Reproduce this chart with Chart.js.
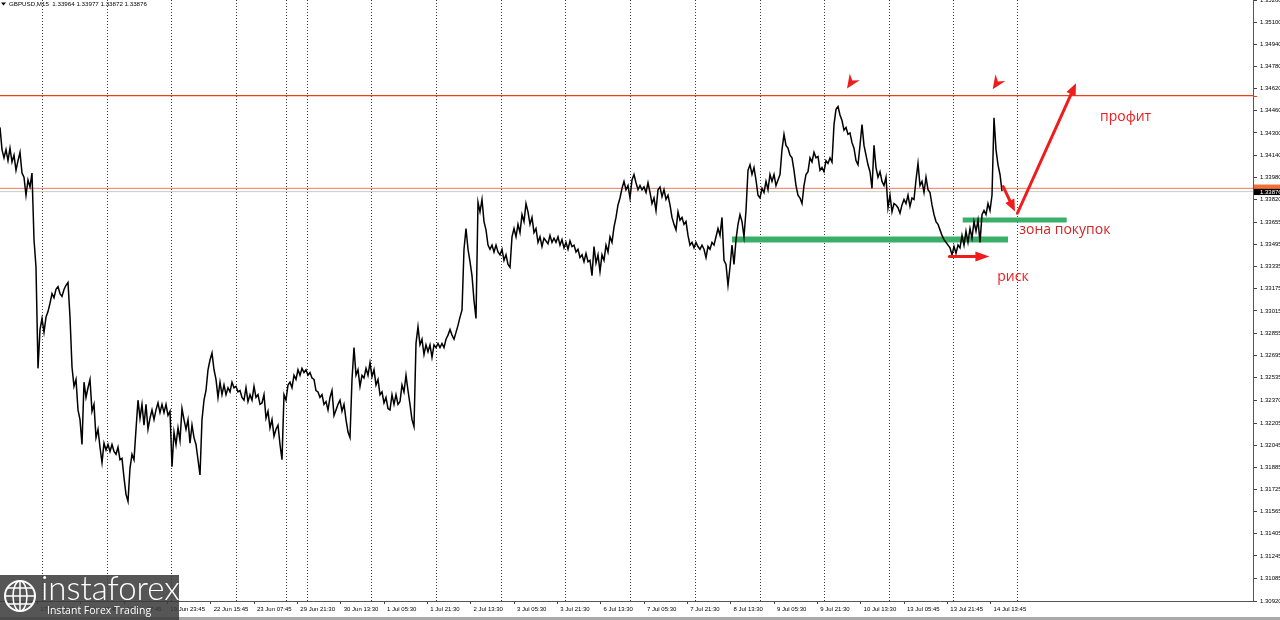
<!DOCTYPE html>
<html><head><meta charset="utf-8">
<script src="https://cdn.jsdelivr.net/npm/chart.js@4.4.1/dist/chart.umd.min.js"></script>
<style>html,body{margin:0;padding:0;background:#fff;overflow:hidden}canvas{display:block}</style>
</head><body>
<canvas id="c" width="1280" height="620"></canvas>
<script>
// GBPUSD M15 close, one reading per sample (~3 bars)
const closePrices = [
1.3434,1.3418,1.3412,1.3418,1.3410,1.3419,1.3409,1.3414,1.3403,1.3410,
1.3416,1.3401,1.3398,1.3385,1.3396,1.3391,1.3401,1.3353,1.3333,1.3260,
1.3288,1.3296,1.3286,1.3297,1.3301,1.3307,1.3314,1.3311,1.3317,1.3319,
1.3314,1.3312,1.3317,1.3320,1.3322,1.3297,1.3261,1.3247,1.3252,1.3230,
1.3223,1.3205,1.3250,1.3239,1.3246,1.3252,1.3229,1.3234,1.3210,1.3216,
1.3203,1.3192,1.3206,1.3201,1.3205,1.3200,1.3205,1.3200,1.3198,1.3203,
1.3194,1.3195,1.3181,1.3169,1.3164,1.3188,1.3198,1.3194,1.3216,1.3237,
1.3224,1.3234,1.3219,1.3234,1.3216,1.3224,1.3230,1.3223,1.3230,1.3235,
1.3228,1.3234,1.3228,1.3234,1.3226,1.3229,1.3189,1.3214,1.3205,1.3217,
1.3208,1.3231,1.3223,1.3216,1.3223,1.3206,1.3219,1.3210,1.3205,1.3194,
1.3183,1.3223,1.3237,1.3244,1.3259,1.3266,1.3271,1.3259,1.3252,1.3239,
1.3250,1.3241,1.3248,1.3241,1.3246,1.3243,1.3250,1.3246,1.3247,1.3243,
1.3244,1.3239,1.3237,1.3246,1.3236,1.3241,1.3237,1.3247,1.3239,1.3241,
1.3234,1.3235,1.3241,1.3224,1.3229,1.3217,1.3223,1.3211,1.3216,1.3219,
1.3205,1.3194,1.3241,1.3237,1.3248,1.3250,1.3246,1.3255,1.3252,1.3259,
1.3255,1.3260,1.3257,1.3259,1.3255,1.3257,1.3253,1.3252,1.3244,1.3243,
1.3239,1.3241,1.3234,1.3236,1.3230,1.3239,1.3244,1.3226,1.3230,1.3234,
1.3237,1.3229,1.3234,1.3223,1.3214,1.3210,1.3252,1.3275,1.3255,1.3259,
1.3247,1.3255,1.3253,1.3260,1.3255,1.3264,1.3254,1.3259,1.3248,1.3252,
1.3241,1.3243,1.3235,1.3239,1.3231,1.3230,1.3241,1.3234,1.3241,1.3234,
1.3236,1.3248,1.3243,1.3255,1.3244,1.3234,1.3223,1.3218,1.3278,1.3290,
1.3277,1.3281,1.3270,1.3277,1.3272,1.3277,1.3268,1.3277,1.3275,1.3278,
1.3275,1.3278,1.3275,1.3281,1.3284,1.3288,1.3284,1.3281,1.3286,1.3291,
1.3297,1.3302,1.3346,1.3361,1.3346,1.3337,1.3327,1.3309,1.3296,1.3380,
1.3373,1.3382,1.3366,1.3360,1.3349,1.3346,1.3349,1.3344,1.3349,1.3344,
1.3342,1.3346,1.3338,1.3342,1.3335,1.3333,1.3355,1.3361,1.3355,1.3364,
1.3358,1.3371,1.3366,1.3379,1.3373,1.3364,1.3369,1.3358,1.3361,1.3351,
1.3355,1.3348,1.3354,1.3352,1.3350,1.3356,1.3351,1.3354,1.3351,1.3355,
1.3349,1.3353,1.3347,1.3351,1.3346,1.3352,1.3348,1.3349,1.3344,1.3346,
1.3340,1.3342,1.3337,1.3343,1.3337,1.3338,1.3327,1.3348,1.3336,1.3342,
1.3330,1.3342,1.3338,1.3349,1.3344,1.3355,1.3351,1.3362,1.3369,1.3378,
1.3383,1.3390,1.3395,1.3389,1.3392,1.3383,1.3396,1.3400,1.3394,1.3389,
1.3392,1.3389,1.3391,1.3387,1.3394,1.3387,1.3379,1.3383,1.3374,1.3389,
1.3391,1.3384,1.3389,1.3382,1.3385,1.3378,1.3369,1.3364,1.3360,1.3373,
1.3367,1.3369,1.3364,1.3366,1.3356,1.3349,1.3351,1.3347,1.3351,1.3348,
1.3346,1.3349,1.3346,1.3340,1.3348,1.3346,1.3351,1.3349,1.3355,1.3361,
1.3356,1.3369,1.3338,1.3335,1.3320,1.3333,1.3349,1.3335,1.3353,1.3364,
1.3371,1.3366,1.3355,1.3374,1.3403,1.3407,1.3400,1.3405,1.3396,1.3385,
1.3383,1.3390,1.3387,1.3395,1.3389,1.3400,1.3395,1.3400,1.3392,1.3396,
1.3400,1.3418,1.3429,1.3421,1.3419,1.3414,1.3412,1.3403,1.3392,1.3385,
1.3383,1.3379,1.3392,1.3400,1.3402,1.3412,1.3409,1.3416,1.3412,1.3413,
1.3403,1.3405,1.3402,1.3410,1.3408,1.3412,1.3409,1.3436,1.3447,1.3449,
1.3443,1.3439,1.3432,1.3434,1.3429,1.3430,1.3423,1.3419,1.3410,1.3407,
1.3421,1.3436,1.3421,1.3414,1.3407,1.3402,1.3390,1.3421,1.3405,1.3398,
1.3402,1.3395,1.3392,1.3398,1.3376,1.3385,1.3373,1.3379,1.3378,1.3376,
1.3372,1.3378,1.3382,1.3379,1.3385,1.3377,1.3383,1.3382,1.3396,1.3408,
1.3392,1.3395,1.3387,1.3398,1.3389,1.3387,1.3378,1.3371,1.3366,1.3364,
1.3360,1.3356,1.3353,1.3351,1.3349,1.3347,1.3342,1.3348,1.3343,1.3349,
1.3347,1.3356,1.3349,1.3359,1.3351,1.3361,1.3354,1.3366,1.3359,1.3367,
1.3351,1.3371,1.3374,1.3371,1.3379,1.3374,1.3385,1.3441,1.3418,1.3407,
1.3400,1.3388
];
const windowSamples = 626.5;               // samples visible in the window
const yTickValues = [1.35260,1.35100,1.34940,1.34780,1.34620,1.34460,1.34300,1.34140,1.33980,1.33820,
  1.33655,1.33495,1.33335,1.33175,1.33015,1.32855,1.32695,1.32535,1.32370,1.32205,
  1.32045,1.31885,1.31725,1.31565,1.31405,1.31245,1.31085,1.30920];
const timeTickPositions = [18.65,40.35,62,83.65,105.35,127,148.65,170.35,192,213.65,235.3,257,278.65,300.3,322,343.65,365.3,387,408.65,430.3,452,473.65,495.3];
const timeLabels = ["17 Jun 23:45","18 Jun 15:45","19 Jun 07:45","19 Jun 23:45","22 Jun 15:45","23 Jun 07:45","29 Jun 21:30","30 Jun 13:30","1 Jul 05:30","1 Jul 21:30","2 Jul 13:30","3 Jul 05:30","3 Jul 21:30","6 Jul 13:30","7 Jul 05:30","7 Jul 21:30","8 Jul 13:30","9 Jul 05:30","9 Jul 21:30","10 Jul 13:30","13 Jul 05:45","13 Jul 21:45","14 Jul 13:45"];
const daySeparators = [21,53.35,85.65,118,142.85,153.35,185.65,218.15,250.5,282.65,315.15,347.5,379.75,412.15,444.35,476.35,508.65];
const levelPrices = [1.3457, 1.3390];
const bidPrice = 1.33876;
const zoneStart = [366, 481.35];
const zoneEnd = [504, 533.35];
const zonePrice = [1.33531, 1.33672];
const arrowFromX = [501.6, 508.7, 474.7];
const arrowFromP = [1.33912, 1.33720, 1.33407];
const arrowToX = [507.5, 538, 494.7];
const arrowToP = [1.33732, 1.34659, 1.33407];
const pointerX = [423.5, 496.35];
const pointerP = [1.34621, 1.34615];
const noteText = ["профит", "зона покупок", "риск"];
const noteX = [550, 509.65, 498.65];
const noteP = [1.34412, 1.33599, 1.33262];
const headerText = "GBPUSD,M15  1.33964 1.33977 1.33872 1.33876";

const RED = '#f01c1c';
const datasets = [
  {data: closePrices.map((v,i)=>({x:i,y:v})), borderColor:'#000', borderWidth:1.5, pointRadius:0, tension:0, order:0}
];
levelPrices.forEach((p,k)=>datasets.push({data:[{x:0,y:p},{x:windowSamples,y:p}], borderColor:k===0?'#e8401a':'#f07a50', borderWidth:k===0?1.3:1, pointRadius:0, order:2}));
datasets.push({data:[{x:0,y:bidPrice},{x:windowSamples,y:bidPrice}], borderColor:'#c8c8c8', borderWidth:1, pointRadius:0, order:3});
zoneStart.forEach((s,k)=>datasets.push({data:[{x:s,y:zonePrice[k]},{x:zoneEnd[k],y:zonePrice[k]}], borderColor:'#3aaf69', borderWidth:k===0?6:5, borderCapStyle:'butt', pointRadius:0, order:1}));

function drawArrow(ctx,x1,y1,x2,y2,lw,L,W){
  const a=Math.atan2(y2-y1,x2-x1), c=Math.cos(a), s=Math.sin(a);
  const bx=x2-L*c, by=y2-L*s;
  ctx.strokeStyle=RED; ctx.fillStyle=RED; ctx.lineWidth=lw; ctx.lineCap='round';
  ctx.beginPath(); ctx.moveTo(x1,y1); ctx.lineTo(bx+c*2,by+s*2); ctx.stroke();
  ctx.beginPath(); ctx.moveTo(x2,y2); ctx.lineTo(bx+W*s,by-W*c); ctx.lineTo(bx-W*s,by+W*c); ctx.closePath(); ctx.fill();
}

const overlay = {
  id:'overlay',
  beforeDatasetsDraw(chart){
    const {ctx, chartArea:a, scales:{x}} = chart;
    ctx.save();
    ctx.strokeStyle='#3a3a3a'; ctx.lineWidth=1; ctx.setLineDash([1,2]);
    daySeparators.forEach(d=>{const px=Math.round(x.getPixelForValue(d))+0.5; ctx.beginPath(); ctx.moveTo(px,a.top); ctx.lineTo(px,a.bottom); ctx.stroke();});
    ctx.restore();
  },
  afterDatasetsDraw(chart){
    const {ctx, scales:{x,y}} = chart;
    ctx.save();
    arrowFromX.forEach((fx,k)=>{
      drawArrow(ctx, x.getPixelForValue(fx), y.getPixelForValue(arrowFromP[k]), x.getPixelForValue(arrowToX[k]), y.getPixelForValue(arrowToP[k]), 3, k===2?14:12, 5);
    });
    // small pointer marks (tip pointing down-left)
    pointerX.forEach((px0,k)=>{
      const tx=x.getPixelForValue(px0), ty=y.getPixelForValue(pointerP[k]);
      const dx=7.3, dy=-11, len=Math.hypot(dx,dy), ux=dx/len, uy=dy/len;
      const bx=tx+ux*14, by=ty+uy*14, nx=tx+ux*9.5, ny=ty+uy*9.5;
      ctx.fillStyle=RED; ctx.beginPath(); ctx.moveTo(tx,ty);
      ctx.lineTo(bx+uy*6, by-ux*6); ctx.lineTo(nx,ny); ctx.lineTo(bx-uy*6, by+ux*6); ctx.closePath(); ctx.fill();
    });
    ctx.font='14px "Open Sans"'; ctx.textBaseline='middle'; ctx.textAlign='left';
    noteText.forEach((t,k)=>{ ctx.fillStyle=k===1?'#d42424':RED; ctx.fillText(t, x.getPixelForValue(noteX[k]), y.getPixelForValue(noteP[k])); });
    ctx.restore();
  },
  afterDraw(chart){
    const {ctx, chartArea:a, scales:{y}} = chart;
    ctx.save();
    // header
    ctx.fillStyle='#000'; ctx.beginPath(); ctx.moveTo(1,2.5); ctx.lineTo(6,2.5); ctx.lineTo(3.5,5.5); ctx.closePath(); ctx.fill();
    ctx.font='6.2px "Liberation Sans"'; ctx.textBaseline='middle'; ctx.fillText(headerText, 9, 4.5);
    // axis price boxes
    const yo=y.getPixelForValue(levelPrices[1]), yb=y.getPixelForValue(bidPrice);
    ctx.fillStyle='#f07038'; ctx.fillRect(a.right+1, yo-3.8, 27, 4.8);
    ctx.fillStyle='#000'; ctx.fillRect(a.right+1, yb-2.8, 27, 6.2);
    ctx.fillStyle='#fff'; ctx.font='6px "Liberation Sans"'; ctx.fillText(bidPrice.toFixed(5), a.right+7, yb+0.4);
    const yt=y.getPixelForValue(levelPrices[0]);
    ctx.strokeStyle='#e8401a'; ctx.lineWidth=1; ctx.beginPath(); ctx.moveTo(a.right, Math.round(yt)+0.5); ctx.lineTo(a.right+4, Math.round(yt)+0.5); ctx.stroke();
    // bottom band
    ctx.fillStyle='#a9a9a9'; ctx.fillRect(0,617,1280,3);
    // logo
    ctx.fillStyle='rgba(58,58,58,0.86)'; ctx.fillRect(0,575,179,45);
    ctx.strokeStyle='#fff'; ctx.lineWidth=2;
    ctx.beginPath(); ctx.arc(20,596,15,0,Math.PI*2); ctx.stroke();
    ctx.lineWidth=1.5;
    ctx.beginPath(); ctx.ellipse(20,596,7,15,0,0,Math.PI*2); ctx.stroke();
    ctx.beginPath(); ctx.moveTo(5,596); ctx.lineTo(35,596); ctx.moveTo(8,588); ctx.lineTo(32,588); ctx.moveTo(8,604); ctx.lineTo(32,604); ctx.moveTo(20,581); ctx.lineTo(20,611); ctx.stroke();
    ctx.fillStyle='#fff'; ctx.textBaseline='alphabetic';
    ctx.font='300 33px Lato'; ctx.fillText('instaforex', 41, 600);
    ctx.font='10.5px "Open Sans"'; ctx.fillText('Instant Forex Trading', 47, 614);
    ctx.restore();
  }
};

new Chart(document.getElementById('c'), {
  type:'line',
  data:{datasets},
  plugins:[overlay],
  options:{
    responsive:false, animation:false, devicePixelRatio:1, events:[],
    layout:{padding:0},
    plugins:{legend:{display:false}, tooltip:{enabled:false}},
    scales:{
      x:{type:'linear', min:0, max:windowSamples, position:'bottom',
        afterBuildTicks:s=>{s.ticks=timeTickPositions.map(v=>({value:v}));},
        afterFit:s=>{s.height=19; s.paddingLeft=0; s.paddingRight=0;},
        ticks:{autoSkip:false, maxRotation:0, minRotation:0, align:'start', labelOffset:3, padding:2, color:'#000', font:{family:'Liberation Sans', size:6}, callback:(v,i)=>timeLabels[i]},
        grid:{display:true, drawOnChartArea:false, drawTicks:true, tickLength:3, color:'#444'},
        border:{display:true, color:'#555', width:1}
      },
      y:{type:'linear', position:'right', min:1.3092, max:1.3526,
        afterBuildTicks:s=>{s.ticks=yTickValues.map(v=>({value:v}));},
        afterFit:s=>{s.width=27; s.paddingTop=0; s.paddingBottom=0;},
        ticks:{autoSkip:false, padding:3, color:'#000', font:{family:'Liberation Sans', size:6}, callback:v=>v.toFixed(5)},
        grid:{display:true, drawOnChartArea:false, drawTicks:true, tickLength:4, color:'#444'},
        border:{display:true, color:'#555', width:1}
      }
    }
  }
});
</script>
</body></html>
